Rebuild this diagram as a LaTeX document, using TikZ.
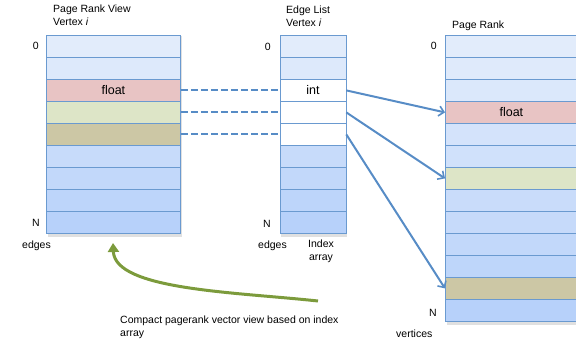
\documentclass[tikz,border=0pt]{standalone}
\usepackage{fontspec}
\setmainfont{Liberation Sans}
\usetikzlibrary{arrows.meta}
\definecolor{cellborder}{RGB}{106,154,208}
\definecolor{bluetop}{RGB}{226,236,251}
\definecolor{bluebot}{RGB}{183,209,250}
\definecolor{floatred}{RGB}{232,196,196}
\definecolor{lightgreen}{RGB}{221,229,199}
\definecolor{khaki}{RGB}{204,199,165}
\definecolor{connblue}{RGB}{87,140,198}
\definecolor{arrgreen}{RGB}{124,155,60}
\begin{document}
\begin{tikzpicture}[x=1pt,y=-1pt,
  cell/.style={draw=cellborder, line width=0.8pt, minimum width=#1, minimum height=22pt,
    inner sep=0pt, anchor=north west, font=\fontsize{12.5}{14}\selectfont},
  lab/.style={font=\fontsize{10.5}{13}\selectfont, inner sep=0pt},
  dashconn/.style={draw=connblue, line width=2pt, dash pattern=on 7pt off 3pt},
  arrconn/.style={draw=connblue, line width=2pt, -{Straight Barb[length=5pt,width=10pt,line width=1.6pt]}},
  greenarr/.style={draw=arrgreen, line width=3pt, -{Triangle[length=9pt,width=11pt]}},
  colshadow/.style={fill=black, opacity=0.12}
]
\useasboundingbox (0,0) rectangle (576,345);

% shadows
\fill[colshadow] (47.5,36.5) rectangle (181.5,236.5);
\fill[colshadow] (280.5,36.5) rectangle (346.5,236.5);
\fill[colshadow] (446.5,36.5) rectangle (578,324.5);

% left column
\foreach \i in {1,...,9}{
  \pgfmathtruncatemacro{\p}{100*(\i-1)/8}
  \node[cell=134pt, fill=bluebot!\p!bluetop] (L\i) at (46,{35+22*(\i-1)}) {};
}
\node[cell=134pt, fill=floatred] (L3f) at (46,79) {float};
\node[cell=134pt, fill=lightgreen] (L4f) at (46,101) {};
\node[cell=134pt, fill=khaki] (L5f) at (46,123) {};

% middle column
\foreach \i in {1,...,9}{
  \pgfmathtruncatemacro{\p}{100*(\i-1)/8}
  \node[cell=66pt, fill=bluebot!\p!bluetop] (M\i) at (279.5,{35+22*(\i-1)}) {};
}
\node[cell=66pt, fill=white] (M3f) at (279.5,79) {int};
\node[cell=66pt, fill=white] (M4f) at (279.5,101) {};
\node[cell=66pt, fill=white] (M5f) at (279.5,123) {};

% right column
\foreach \i in {1,...,13}{
  \pgfmathtruncatemacro{\p}{100*(\i-1)/12}
  \node[cell=132pt, fill=bluebot!\p!bluetop] (R\i) at (445,{35+22*(\i-1)}) {};
}
\node[cell=132pt, fill=floatred] (R4f) at (445,101) {float};
\node[cell=132pt, fill=lightgreen] (R7f) at (445,167) {};
\node[cell=132pt, fill=khaki] (R12f) at (445,277) {};

% labels
\node[lab, anchor=north west, align=left] (hL) at (53,5) {Page Rank View\\Vertex \textit{i}};
\node[lab, anchor=north west, align=left] (hM) at (286,6) {Edge List\\Vertex \textit{i}};
\node[lab, anchor=north west] (hR) at (452,21) {Page Rank};
\node[lab, anchor=east] (zL) at (39,46) {0};
\node[lab, anchor=east] (nL) at (40,223) {N};
\node[lab, anchor=west] (eL) at (22,246) {edges};
\node[lab, anchor=east] (zM) at (271,47) {0};
\node[lab, anchor=east] (nM) at (271,224) {N};
\node[lab, anchor=west] (eM) at (258,246) {edges};
\node[lab, anchor=north, align=center] (iM) at (321,240) {Index\\array};
\node[lab, anchor=east] (zR) at (437,46) {0};
\node[lab, anchor=east] (nR) at (437,313) {N};
\node[lab, anchor=west] (vR) at (396,334) {vertices};
\node[lab, anchor=north west, align=left] (cap) at (120,316) {Compact pagerank vector view based on index\\array};

% dashed links
\draw[dashconn] (L3f.east) -- (M3f.west);
\draw[dashconn] (L4f.east) -- (M4f.west);
\draw[dashconn] (L5f.east) -- (M5f.west);

% arrows
\draw[arrconn] (M3f.east) -- (R4f.west);
\draw[arrconn] (M4f.east) -- (R7f.west);
\draw[arrconn] (M5f.east) -- (R12f.west);

% green curved arrow
\coordinate (gs) at (318,301);
\coordinate (ge) at (113,243);
\draw[greenarr] (gs) .. controls (235,292) and (115,290) .. (ge);
\end{tikzpicture}
\end{document}
